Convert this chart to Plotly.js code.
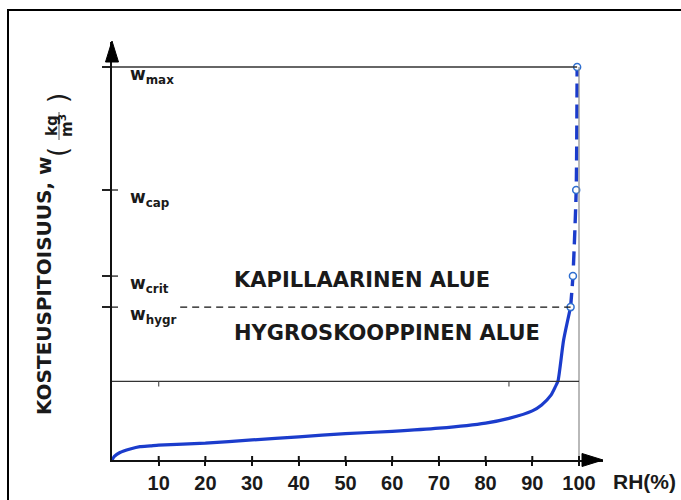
<!DOCTYPE html>
<html>
<head>
<meta charset="utf-8">
<script src="https://cdn.plot.ly/plotly-3.0.1.min.js"></script>
<style>html,body{margin:0;padding:0;background:#fff;}</style>
</head>
<body>
<div id="chart" style="width:681px;height:500px;"></div>
<script>
// ---- data ----
const curveRH = [0, 0.5, 1.7, 3.9, 6, 8.2, 10, 20, 30, 40, 50, 60, 70, 80, 85, 90, 92, 94, 95, 95.5, 96.7, 98.2];
const curveW  = [0, 0.9, 1.9, 2.8, 3.4, 3.6, 3.8, 4.3, 5.1, 5.9, 6.7, 7.3, 8.1, 9.4, 10.6, 12.5, 14.0, 16.5, 18.8, 20.1, 30.5, 38.9];
const dashRH = [98.2, 98.7, 99.4, 99.6];
const dashW  = [38.9, 46.8, 68.7, 100];
const levelNames = ['max', 'cap', 'crit', 'hygr'];
const levelW  = [100, 68.7, 46.8, 38.9];
const levelRH = [99.6, 99.4, 98.7, 98.2];
const xTicks = [10, 20, 30, 40, 50, 60, 70, 80, 90, 100];
const boxW = 20;
const boxTickRH = [10, 85];
const regionLabels = ['KAPILLAARINEN ALUE', 'HYGROSKOOPPINEN ALUE'];
const regionW = [45.8, 32.3];
const yTitle = 'KOSTEUSPITOISUUS, w';
const xTitle = 'RH(%)';

// ---- layout helpers (pixel -> paper) ----
const PL = 112, PW = 491, PT = 42, PH = 418;
const pX = p => (p - PL) / PW;
const pY = p => (PT + PH - p) / PH;
const PXU = 4.67, PYU = 3.93;   // pixels per data unit

const blue = '#1b3ccc';
const boldFont = (size, fam) => ({family: fam || 'DejaVu Sans', size: size, color: '#1a1a1a', weight: 'bold'});

const traces = [
  {x: curveRH, y: curveW, type: 'scatter', mode: 'lines',
   line: {color: blue, width: 3.2, shape: 'spline', smoothing: 0.6}, hoverinfo: 'skip'},
  {x: dashRH, y: dashW, type: 'scatter', mode: 'lines',
   line: {color: blue, width: 3.4, dash: '14px,7px', shape: 'spline', smoothing: 0.6}, hoverinfo: 'skip'},
  {x: levelRH, y: levelW, type: 'scatter', mode: 'markers',
   marker: {symbol: 'circle', size: 7, color: '#ffffff', line: {color: '#2f6fd0', width: 1.5}},
   cliponaxis: false, hoverinfo: 'skip'}
];

const shapes = [
  // outer frame
  {type: 'rect', xref: 'paper', yref: 'paper', x0: pX(8), x1: pX(700), y0: pY(520), y1: pY(10),
   line: {color: '#000', width: 2}},
  // axis arrows
  {type: 'path', xref: 'paper', yref: 'paper',
   path: `M ${pX(112)},${pY(41)} L ${pX(105.5)},${pY(62)} L ${pX(118.5)},${pY(62)} Z`,
   fillcolor: '#000', line: {color: '#000', width: 1}},
  {type: 'path', xref: 'paper', yref: 'paper',
   path: `M ${pX(603)},${pY(460)} L ${pX(582)},${pY(453.5)} L ${pX(582)},${pY(466.5)} Z`,
   fillcolor: '#000', line: {color: '#000', width: 1}},
  // w_max line
  {type: 'line', xref: 'x', yref: 'y', x0: 0, x1: levelRH[0], y0: levelW[0], y1: levelW[0],
   line: {color: '#333', width: 1.3}},
  // RH = 100 vertical line
  {type: 'line', xref: 'x', yref: 'y', x0: 100, x1: 100, y0: 0, y1: levelW[0],
   line: {color: '#8a8a8a', width: 1.2}},
  // box line
  {type: 'line', xref: 'x', yref: 'y', x0: 0, x1: 100, y0: boxW, y1: boxW,
   line: {color: '#333', width: 1.2}},
  // w_hygr dashed line
  {type: 'line', xref: 'x', yref: 'y', x0: 14.6, x1: levelRH[3], y0: levelW[3], y1: levelW[3],
   line: {color: '#111', width: 1.2, dash: '7px,5px'}},
  // y-title fraction bar
  {type: 'line', xref: 'paper', yref: 'paper', x0: pX(59), x1: pX(59), y0: pY(112), y1: pY(140),
   line: {color: '#555', width: 1}}
];
// small tick marks on the box line
boxTickRH.forEach(r => shapes.push({type: 'line', xref: 'x', yref: 'y', x0: r, x1: r,
  y0: boxW, y1: boxW - 5 / PYU, line: {color: '#555', width: 1.2}}));
// upper halves of the x ticks (crossing the axis)
xTicks.forEach(r => shapes.push({type: 'line', xref: 'x', yref: 'y', x0: r, x1: r,
  y0: 0, y1: 4 / PYU, line: {color: '#111', width: 2}}));
// right halves of the y ticks (crossing the axis)
levelW.slice(1).forEach(v => shapes.push({type: 'line', xref: 'x', yref: 'y', x0: 0, x1: 6 / PXU,
  y0: v, y1: v, line: {color: '#222', width: 1.3}}));

const annotations = [];
levelNames.forEach((n, i) => annotations.push({
  xref: 'x', yref: 'y', x: 3.4, y: levelW[i], xanchor: 'left', yanchor: 'middle', yshift: -8,
  text: 'w<sub>' + n + '</sub>', showarrow: false, font: boldFont(17)
}));
regionLabels.forEach((t, i) => annotations.push({
  xref: 'x', yref: 'y', x: 25.7, y: regionW[i], xanchor: 'left', yanchor: 'middle',
  text: t, showarrow: false, font: boldFont(21)
}));
annotations.push({xref: 'paper', yref: 'paper', x: pX(44), y: pY(286), xanchor: 'center', yanchor: 'middle',
  textangle: -90, text: yTitle, showarrow: false, font: boldFont(20)});
annotations.push({xref: 'paper', yref: 'paper', x: pX(58), y: pY(152), xanchor: 'center', yanchor: 'middle',
  textangle: -90, text: '(', showarrow: false, font: {family: 'DejaVu Sans', size: 26, color: '#1a1a1a'}});
annotations.push({xref: 'paper', yref: 'paper', x: pX(58), y: pY(98), xanchor: 'center', yanchor: 'middle',
  textangle: -90, text: ')', showarrow: false, font: {family: 'DejaVu Sans', size: 26, color: '#1a1a1a'}});
annotations.push({xref: 'paper', yref: 'paper', x: pX(52), y: pY(126), xanchor: 'center', yanchor: 'middle',
  textangle: -90, text: 'kg', showarrow: false, font: boldFont(15)});
annotations.push({xref: 'paper', yref: 'paper', x: pX(66), y: pY(126), xanchor: 'center', yanchor: 'middle',
  textangle: -90, text: 'm<sup>3</sup>', showarrow: false, font: boldFont(15)});
annotations.push({xref: 'paper', yref: 'paper', x: pX(611), y: pY(481), xanchor: 'left', yanchor: 'middle',
  text: xTitle, showarrow: false, font: boldFont(21, 'Liberation Sans')});

const layout = {
  width: 681, height: 500,
  margin: {l: PL, r: 681 - PL - PW, t: PT, b: 500 - PT - PH},
  paper_bgcolor: '#fff', plot_bgcolor: '#fff',
  showlegend: false,
  xaxis: {range: [0, PW / PXU], showgrid: false, zeroline: false, showline: true, linecolor: '#111', linewidth: 2,
    tickmode: 'array', tickvals: xTicks, ticktext: xTicks.map(String), ticks: 'outside', ticklen: 4,
    tickwidth: 2, tickcolor: '#111', tickfont: boldFont(20, 'Liberation Sans'), fixedrange: true},
  yaxis: {range: [0, PH / PYU], showgrid: false, zeroline: false, showline: true, linecolor: '#111', linewidth: 2,
    tickmode: 'array', tickvals: levelW, ticks: 'outside', ticklen: 8, tickwidth: 1.3, tickcolor: '#222',
    showticklabels: false, fixedrange: true},
  shapes: shapes,
  annotations: annotations
};

Plotly.newPlot('chart', traces, layout, {displayModeBar: false, staticPlot: true});
</script>
</body>
</html>
